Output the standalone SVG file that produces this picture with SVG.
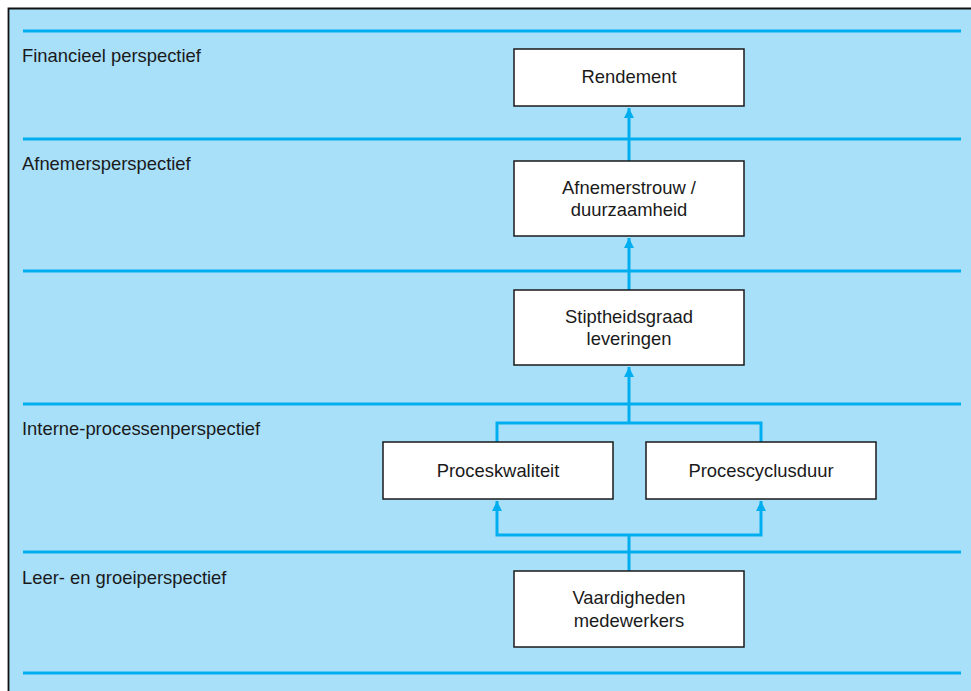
<svg xmlns="http://www.w3.org/2000/svg" width="971" height="691" viewBox="0 0 971 691">
  <style>
    .band { stroke: #00aeef; stroke-width: 3; fill: none; }
    .conn { stroke: #00aeef; stroke-width: 3; fill: none; }
    .box { fill: #ffffff; stroke: #1a1a1a; stroke-width: 1.5; }
    .lbl { font-family: "Liberation Sans", Arial, sans-serif; font-size: 18.4px; fill: #1a1a1a; }
    .mid { text-anchor: middle; }
  </style>
  <defs>
    <marker id="arrow" viewBox="0 0 10 14" refX="10" refY="7" markerWidth="10" markerHeight="14" markerUnits="userSpaceOnUse" orient="auto">
      <path d="M0,2 L10,7 L0,12 Z" fill="#00aeef"/>
    </marker>
  </defs>

  <!-- background panel -->
  <rect x="8" y="8" width="970" height="690" fill="#a8e0fa"/>
  <path d="M8.5,691 L8.5,8.5 L971,8.5" fill="none" stroke="#111" stroke-width="1.8"/>

  <!-- perspective bands -->
  <g id="bands">
    <line class="band" x1="23" y1="31" x2="961" y2="31"/>
    <line class="band" x1="23" y1="139" x2="961" y2="139"/>
    <line class="band" x1="23" y1="271" x2="961" y2="271"/>
    <line class="band" x1="23" y1="404" x2="961" y2="404"/>
    <line class="band" x1="23" y1="552" x2="961" y2="552"/>
    <line class="band" x1="23" y1="673" x2="961" y2="673"/>
  </g>

  <g id="band-labels">
    <text class="lbl" x="22" y="62">Financieel perspectief</text>
    <text class="lbl" x="22" y="170">Afnemersperspectief</text>
    <text class="lbl" x="22" y="435">Interne-processenperspectief</text>
    <text class="lbl" x="22" y="584">Leer- en groeiperspectief</text>
  </g>

  <!-- connectors -->
  <g id="connectors">
    <path class="conn" d="M629,161 L629,108" marker-end="url(#arrow)"/>
    <path class="conn" d="M629,290 L629,238" marker-end="url(#arrow)"/>
    <path class="conn" d="M497,442 L497,423 L761,423 L761,442"/>
    <path class="conn" d="M629,423 L629,367" marker-end="url(#arrow)"/>
    <path class="conn" d="M629,571 L629,535"/>
    <path class="conn" d="M629,535 L497,535 L497,501" marker-end="url(#arrow)"/>
    <path class="conn" d="M629,535 L761,535 L761,501" marker-end="url(#arrow)"/>
  </g>

  <!-- nodes -->
  <g id="rendement">
    <rect class="box" x="514" y="49" width="230" height="57"/>
    <text class="lbl mid" x="629" y="83">Rendement</text>
  </g>
  <g id="afnemerstrouw">
    <rect class="box" x="514" y="161" width="230" height="75"/>
    <text class="lbl mid" x="629" y="194">Afnemerstrouw /</text>
    <text class="lbl mid" x="629" y="216">duurzaamheid</text>
  </g>
  <g id="stiptheidsgraad">
    <rect class="box" x="514" y="290" width="230" height="75"/>
    <text class="lbl mid" x="629" y="323">Stiptheidsgraad</text>
    <text class="lbl mid" x="629" y="345">leveringen</text>
  </g>
  <g id="proceskwaliteit">
    <rect class="box" x="383" y="442" width="230" height="57"/>
    <text class="lbl mid" x="498" y="477">Proceskwaliteit</text>
  </g>
  <g id="procescyclusduur">
    <rect class="box" x="646" y="442" width="230" height="57"/>
    <text class="lbl mid" x="761" y="477">Procescyclusduur</text>
  </g>
  <g id="vaardigheden">
    <rect class="box" x="514" y="571" width="230" height="76"/>
    <text class="lbl mid" x="629" y="604">Vaardigheden</text>
    <text class="lbl mid" x="629" y="627">medewerkers</text>
  </g>
</svg>
